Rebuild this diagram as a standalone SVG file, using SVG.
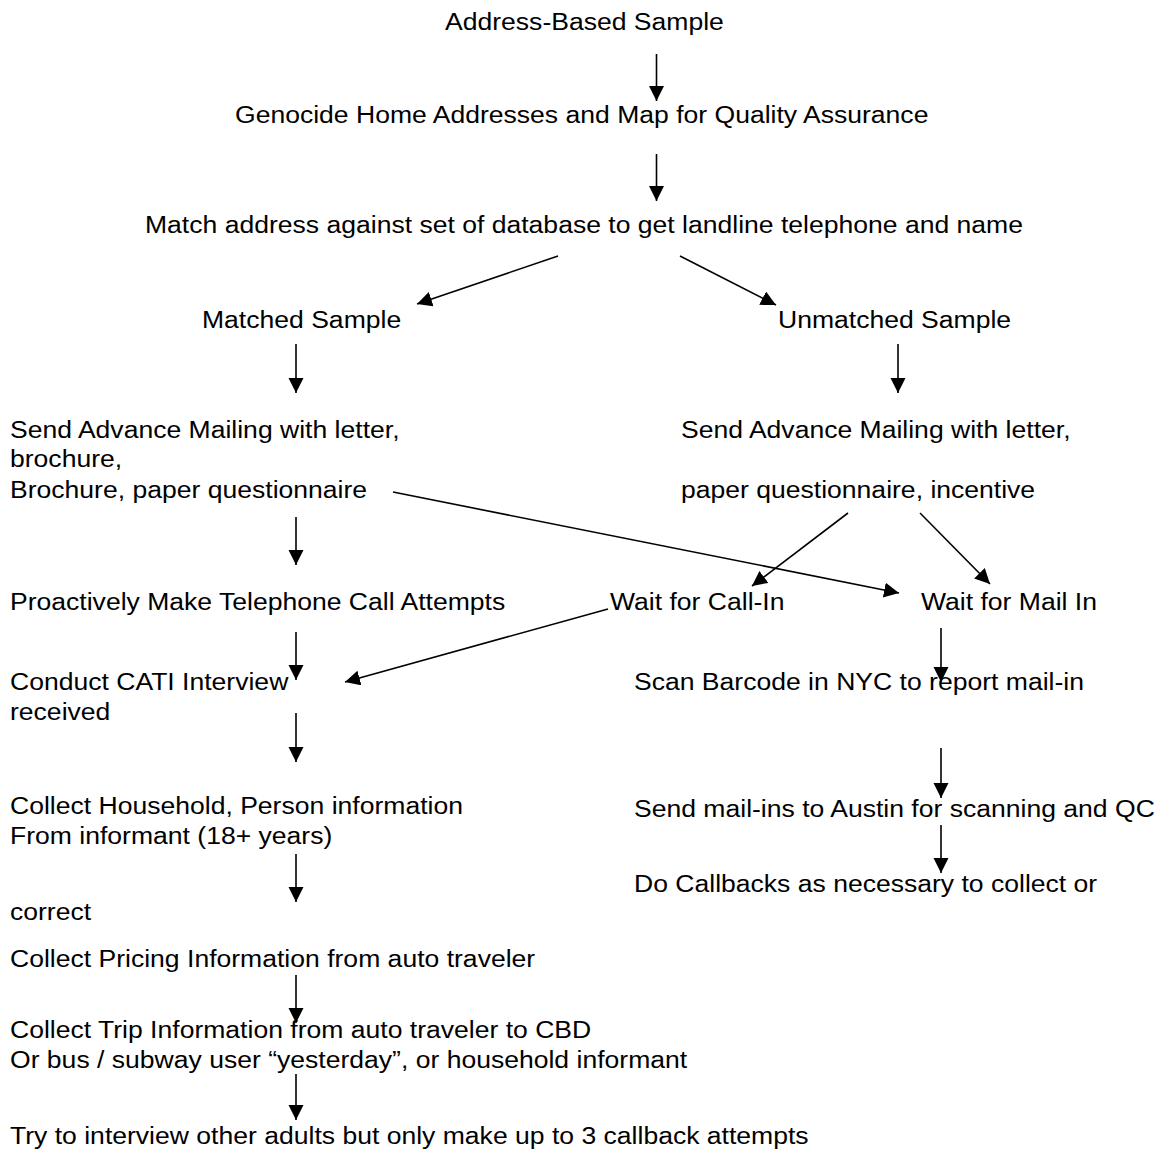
<svg xmlns="http://www.w3.org/2000/svg" width="1162" height="1161" viewBox="0 0 1162 1161">
<defs>
<style>
text{font-family:"Liberation Sans",Arial,sans-serif;font-size:23.5px;fill:#000}
.c line{stroke:#000;stroke-width:1.6;fill:none}
</style>
<marker id="ah" markerUnits="userSpaceOnUse" markerWidth="18" markerHeight="18" refX="15" refY="7.5" orient="auto">
<path d="M0,0 L15,7.5 L0,15 Z" fill="#000"/>
</marker>
</defs>
<rect width="1162" height="1161" fill="#fff"/>
<g id="n1"><text x="393.81" y="30.5" transform="scale(1.13 1)">Address-Based Sample</text></g>
<g id="n2"><text x="207.96" y="123.5" transform="scale(1.13 1)">Genocide Home Addresses and Map for Quality Assurance</text></g>
<g id="n3"><text x="128.32" y="233.5" transform="scale(1.13 1)">Match address against set of database to get landline telephone and name</text></g>
<g id="n4"><text x="178.76" y="328" transform="scale(1.13 1)">Matched Sample</text></g>
<g id="n5"><text x="688.5" y="328" transform="scale(1.13 1)">Unmatched Sample</text></g>
<g id="n6" transform="scale(1.13 1)">
<text x="8.85" y="438">Send Advance Mailing with letter,</text>
<text x="8.85" y="467">brochure,</text>
<text x="8.85" y="498">Brochure, paper questionnaire</text>
</g>
<g id="n7" transform="scale(1.13 1)">
<text x="602.65" y="438">Send Advance Mailing with letter,</text>
<text x="602.65" y="498">paper questionnaire, incentive</text>
</g>
<g id="n8"><text x="8.85" y="610" transform="scale(1.13 1)">Proactively Make Telephone Call Attempts</text></g>
<g id="n9"><text x="539.82" y="610" transform="scale(1.13 1)">Wait for Call-In</text></g>
<g id="n10"><text x="815.04" y="610" transform="scale(1.13 1)">Wait for Mail In</text></g>
<g id="n11" transform="scale(1.13 1)">
<text x="8.85" y="690">Conduct CATI Interview</text>
<text x="8.85" y="720">received</text>
</g>
<g id="n12"><text x="561.06" y="690" transform="scale(1.13 1)">Scan Barcode in NYC to report mail-in</text></g>
<g id="n13" transform="scale(1.13 1)">
<text x="8.85" y="814">Collect Household, Person information</text>
<text x="8.85" y="844">From informant (18+ years)</text>
</g>
<g id="n14"><text x="561.06" y="817" transform="scale(1.13 1)">Send mail-ins to Austin for scanning and QC</text></g>
<g id="n15"><text x="561.06" y="892" transform="scale(1.13 1)">Do Callbacks as necessary to collect or</text></g>
<g id="n16"><text x="8.85" y="920" transform="scale(1.13 1)">correct</text></g>
<g id="n17"><text x="8.85" y="967" transform="scale(1.13 1)">Collect Pricing Information from auto traveler</text></g>
<g id="n18" transform="scale(1.13 1)">
<text x="8.85" y="1038">Collect Trip Information from auto traveler to CBD</text>
<text x="8.85" y="1068">Or bus / subway user “yesterday”, or household informant</text>
</g>
<g id="n19"><text x="8.85" y="1144" transform="scale(1.13 1)">Try to interview other adults but only make up to 3 callback attempts</text></g>
<g id="connectors" class="c">
<line x1="656.5" y1="54" x2="656.5" y2="101" marker-end="url(#ah)"/>
<line x1="656.5" y1="154" x2="656.5" y2="201" marker-end="url(#ah)"/>
<line x1="558" y1="256" x2="417" y2="304" marker-end="url(#ah)"/>
<line x1="680" y1="256" x2="776" y2="305" marker-end="url(#ah)"/>
<line x1="296" y1="344" x2="296" y2="393" marker-end="url(#ah)"/>
<line x1="898" y1="344" x2="898" y2="393" marker-end="url(#ah)"/>
<line x1="296" y1="517" x2="296" y2="565" marker-end="url(#ah)"/>
<line x1="393" y1="492" x2="899" y2="593" marker-end="url(#ah)"/>
<line x1="848" y1="513" x2="752" y2="586" marker-end="url(#ah)"/>
<line x1="920" y1="513" x2="990" y2="584" marker-end="url(#ah)"/>
<line x1="608" y1="609" x2="345" y2="682" marker-end="url(#ah)"/>
<line x1="296" y1="632" x2="296" y2="680" marker-end="url(#ah)"/>
<line x1="296" y1="713" x2="296" y2="762" marker-end="url(#ah)"/>
<line x1="941" y1="628" x2="941" y2="682" marker-end="url(#ah)"/>
<line x1="941" y1="748" x2="941" y2="798" marker-end="url(#ah)"/>
<line x1="941" y1="825" x2="941" y2="873" marker-end="url(#ah)"/>
<line x1="296" y1="854" x2="296" y2="902" marker-end="url(#ah)"/>
<line x1="296" y1="975" x2="296" y2="1023" marker-end="url(#ah)"/>
<line x1="296" y1="1074" x2="296" y2="1120" marker-end="url(#ah)"/>
</g>
</svg>
